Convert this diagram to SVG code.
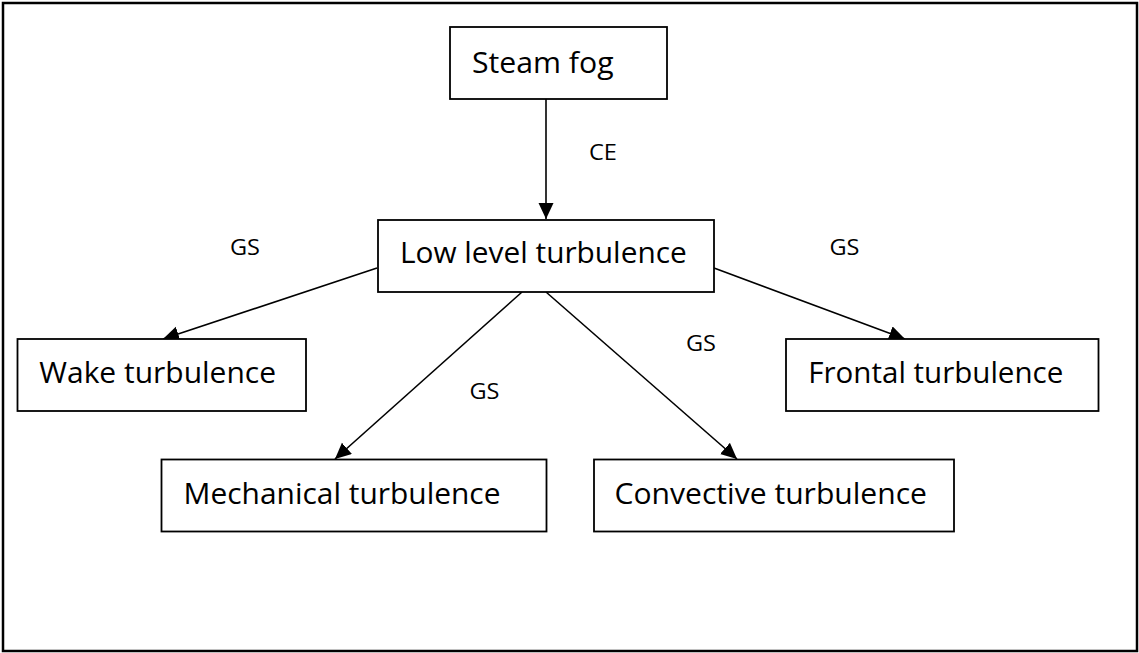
<svg xmlns="http://www.w3.org/2000/svg" width="1139" height="653" viewBox="0 0 1139 653">
  <style>
    .frame { fill: #ffffff; stroke: #000000; stroke-width: 2.5; }
    .box { fill: #ffffff; stroke: #000000; stroke-width: 1.8; }
    .node-text { font-family: "Open Sans", "Noto Sans", "DejaVu Sans", sans-serif; font-size: 30px; fill: #000000; }
    .label { font-family: "Open Sans", "Noto Sans", "DejaVu Sans", sans-serif; font-size: 22.5px; fill: #000000; }
    .edge { stroke: #000000; stroke-width: 1.6; fill: none; marker-end: url(#arrow); }
  </style>
  <defs>
    <marker id="arrow" markerUnits="userSpaceOnUse" markerWidth="17" markerHeight="16" refX="16" refY="7.5" orient="auto">
      <path d="M0,0 L16,7.5 L0,15 z" fill="#000000"/>
    </marker>
  </defs>

  <!-- outer border -->
  <rect class="frame" x="3" y="3" width="1134" height="648"/>

  <!-- connectors -->
  <g id="connectors">
    <line class="edge" x1="546" y1="99" x2="546" y2="219"/>
    <line class="edge" x1="377" y1="268" x2="163" y2="339"/>
    <line class="edge" x1="714" y1="268" x2="905" y2="339"/>
    <line class="edge" x1="522" y1="292" x2="335" y2="459"/>
    <line class="edge" x1="546" y1="292" x2="737" y2="459"/>
    <text class="label" x="589" y="159.5" textLength="28" lengthAdjust="spacingAndGlyphs">CE</text>
    <text class="label" x="230" y="254.5" textLength="30" lengthAdjust="spacingAndGlyphs">GS</text>
    <text class="label" x="829.5" y="254.5" textLength="30" lengthAdjust="spacingAndGlyphs">GS</text>
    <text class="label" x="686" y="351" textLength="30" lengthAdjust="spacingAndGlyphs">GS</text>
    <text class="label" x="469.5" y="399" textLength="30" lengthAdjust="spacingAndGlyphs">GS</text>
  </g>

  <!-- nodes -->
  <g id="steam-fog">
    <rect class="box" x="450" y="27" width="217" height="72"/>
    <text class="node-text" x="472" y="72.7" textLength="141.6" lengthAdjust="spacingAndGlyphs">Steam fog</text>
  </g>
  <g id="low-level-turbulence">
    <rect class="box" x="378" y="220" width="336" height="72"/>
    <text class="node-text" x="400" y="263.3" textLength="286.7" lengthAdjust="spacingAndGlyphs">Low level turbulence</text>
  </g>
  <g id="wake-turbulence">
    <rect class="box" x="17.5" y="339" width="288.5" height="72"/>
    <text class="node-text" x="39.3" y="383.3" textLength="236.7" lengthAdjust="spacingAndGlyphs">Wake turbulence</text>
  </g>
  <g id="frontal-turbulence">
    <rect class="box" x="786" y="339" width="312.5" height="72"/>
    <text class="node-text" x="808.3" y="383.3" textLength="255" lengthAdjust="spacingAndGlyphs">Frontal turbulence</text>
  </g>
  <g id="mechanical-turbulence">
    <rect class="box" x="161.5" y="459.5" width="385" height="72"/>
    <text class="node-text" x="183.5" y="504" textLength="317" lengthAdjust="spacingAndGlyphs">Mechanical turbulence</text>
  </g>
  <g id="convective-turbulence">
    <rect class="box" x="594" y="459.5" width="360" height="72"/>
    <text class="node-text" x="614.5" y="504" textLength="312.5" lengthAdjust="spacingAndGlyphs">Convective turbulence</text>
  </g>
</svg>
